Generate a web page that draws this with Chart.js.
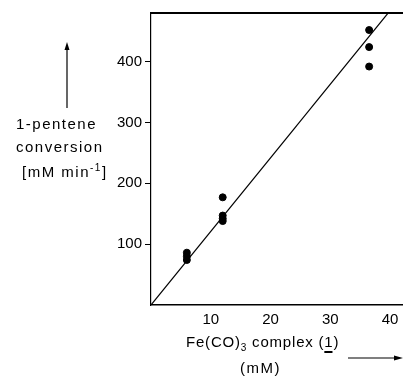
<!DOCTYPE html>
<html>
<head>
<meta charset="utf-8">
<script src="https://cdn.jsdelivr.net/npm/chart.js@4/dist/chart.umd.min.js"></script>
<style>
  body { margin: 0; background: #fff; }
  #chart { display: block; }
</style>
</head>
<body>
<canvas id="chart" width="407" height="377"></canvas>
<script>
// Measured data: complex concentration (mM) vs 1-pentene conversion (mM/min)
const concX = [6, 6, 6, 12, 12, 12, 12, 36.5, 36.5, 36.5];
const convY = [86, 80, 74, 177, 147, 142, 138, 452, 424, 392];

// Straight fit line through the origin
const fitX = [0, 42];
const fitY = [0, 508];

// Axis ranges and tick labels
const xTicks = [10, 20, 30, 40];
const yTicks = [100, 200, 300, 400];

const FONT = "'Liberation Sans', Arial, sans-serif";

// Draws the horizontal axis captions and the arrows
const captions = {
    id: "captions",
    afterDraw(chart) {
        const ctx = chart.ctx;
        ctx.save();
        ctx.fillStyle = "#000";
        ctx.strokeStyle = "#000";
        ctx.font = "15px " + FONT;
        ctx.letterSpacing = "1.5px";
        ctx.textBaseline = "middle";
        ctx.textAlign = "left";

        // y caption
        ctx.fillText("1-pentene", 16, 125);
        ctx.fillText("conversion", 16, 148);
        let x = 22;
        ctx.fillText("[mM min", x, 173);
        x += ctx.measureText("[mM min").width;
        ctx.font = "10px " + FONT;
        ctx.fillText("-1", x, 168);
        x += ctx.measureText("-1").width;
        ctx.font = "15px " + FONT;
        ctx.fillText("]", x, 173);

        // x caption with subscript and underlined compound number
        ctx.letterSpacing = "0.8px";
        x = 186;
        const y = 343;
        ctx.fillText("Fe(CO)", x, y);
        x += ctx.measureText("Fe(CO)").width;
        ctx.font = "10px " + FONT;
        ctx.fillText("3", x, y + 5);
        x += ctx.measureText("3").width;
        ctx.font = "15px " + FONT;
        ctx.fillText(" complex (", x, y);
        x += ctx.measureText(" complex (").width;
        ctx.fillText("1", x, y);
        const w1 = ctx.measureText("1").width;
        ctx.lineWidth = 2;
        ctx.beginPath();
        ctx.moveTo(x, y + 9);
        ctx.lineTo(x + w1 - 1, y + 9);
        ctx.stroke();
        x += w1;
        ctx.fillText(")", x, y);
        ctx.letterSpacing = "1.5px";
        ctx.fillText("(mM)", 240, 369);

        // arrows
        ctx.lineWidth = 1.2;
        ctx.beginPath();
        ctx.moveTo(67, 108);
        ctx.lineTo(67, 48);
        ctx.stroke();
        ctx.beginPath();
        ctx.moveTo(67, 42);
        ctx.lineTo(64.5, 50);
        ctx.lineTo(69.5, 50);
        ctx.closePath();
        ctx.fill();

        ctx.beginPath();
        ctx.moveTo(348, 358);
        ctx.lineTo(396, 358);
        ctx.stroke();
        ctx.beginPath();
        ctx.moveTo(403, 358);
        ctx.lineTo(394, 355.5);
        ctx.lineTo(394, 360.5);
        ctx.closePath();
        ctx.fill();
        ctx.restore();
    }
};

new Chart(document.getElementById("chart"), {
    type: "scatter",
    data: {
        datasets: [
            {
                label: "fit",
                type: "line",
                data: fitX.map((v, i) => ({ x: v, y: fitY[i] })),
                borderColor: "#000",
                borderWidth: 1.2,
                pointRadius: 0,
                fill: false
            },
            {
                label: "measured",
                data: concX.map((v, i) => ({ x: v, y: convY[i] })),
                backgroundColor: "#000",
                borderColor: "#000",
                pointRadius: 3.5
            }
        ]
    },
    options: {
        responsive: false,
        animation: false,
        layout: { padding: { top: 13, right: 0, bottom: 0, left: 0 } },
        plugins: {
            legend: { display: false },
            tooltip: { enabled: false }
        },
        scales: {
            x: {
                type: "linear",
                position: "bottom",
                min: 0,
                max: 42,
                afterBuildTicks: axis => { axis.ticks = xTicks.map(v => ({ value: v })); },
                afterFit: axis => { axis.height = 72; },
                ticks: { color: "#000", font: { size: 15, family: FONT }, padding: 6, maxRotation: 0 },
                grid: { display: true, drawOnChartArea: false, drawTicks: false },
                border: { color: "#000", width: 1.5 }
            },
            x2: {
                type: "linear",
                position: "top",
                min: 0,
                max: 42,
                afterFit: axis => { axis.height = 0; },
                ticks: { display: false },
                grid: { display: false, drawTicks: false },
                border: { color: "#000", width: 2 }
            },
            y: {
                min: 0,
                max: 480,
                afterBuildTicks: axis => { axis.ticks = yTicks.map(v => ({ value: v })); },
                afterFit: axis => { axis.width = 151; },
                ticks: { color: "#000", font: { size: 15, family: FONT }, padding: 3 },
                grid: { display: true, drawOnChartArea: false, drawTicks: true, tickLength: 6, color: "#000" },
                border: { color: "#000", width: 1.2 }
            }
        }
    },
    plugins: [captions]
});
</script>
</body>
</html>
